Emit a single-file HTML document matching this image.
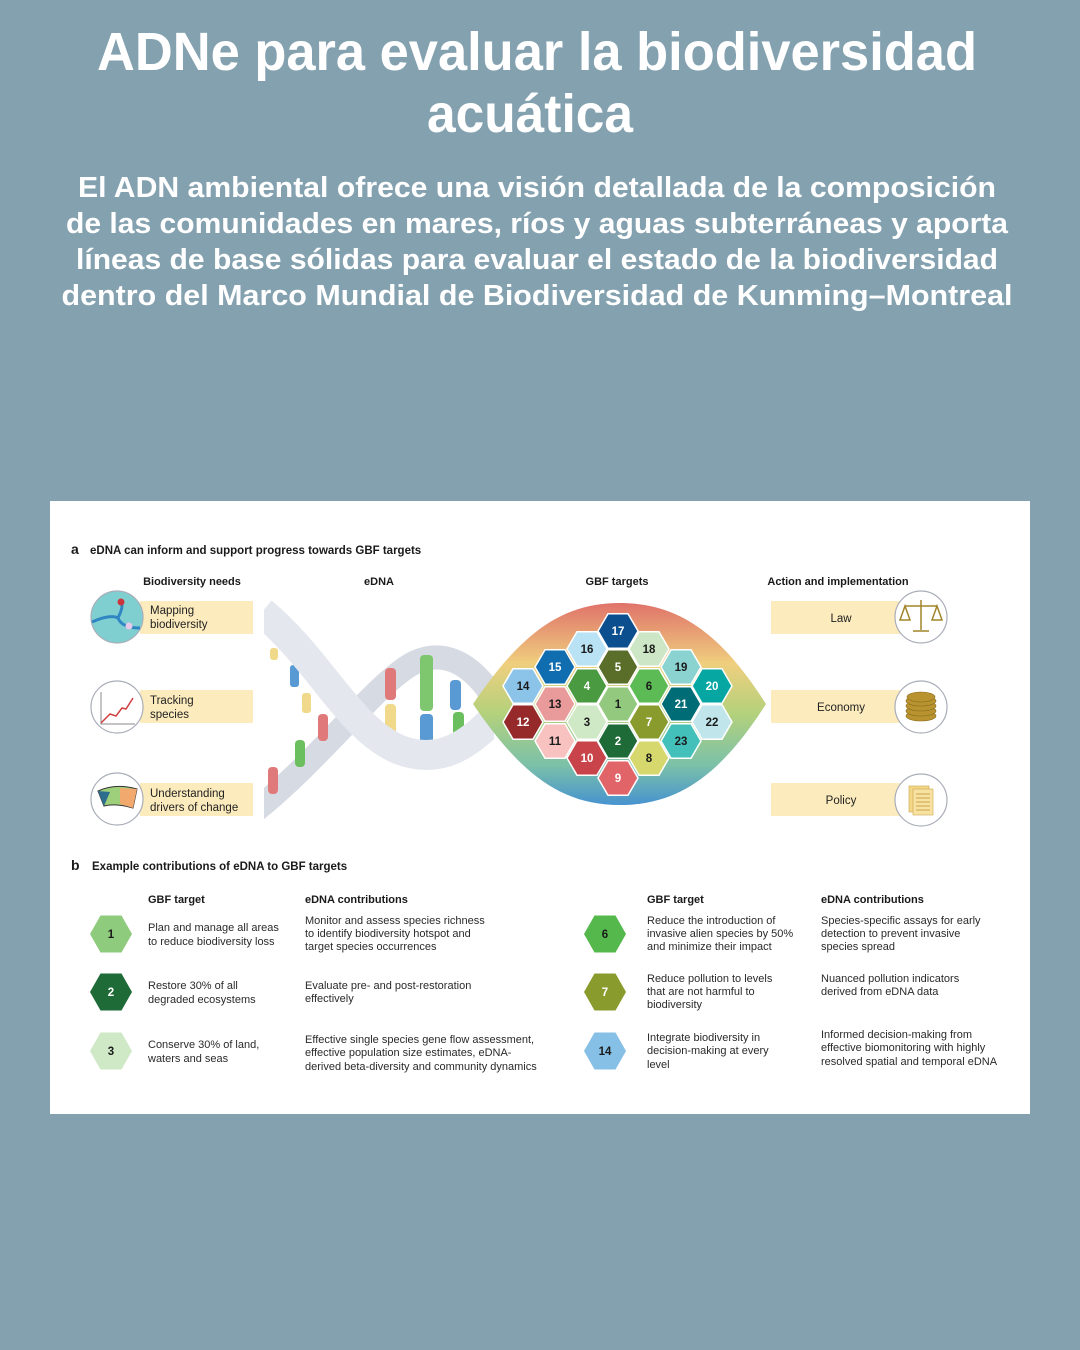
<!DOCTYPE html>
<html><head><meta charset="utf-8"><style>
html,body{margin:0;padding:0;background:#84a1b0;}
svg{display:block}
text{font-family:"Liberation Sans",sans-serif}
</style></head><body>
<svg width="1080" height="1350" viewBox="0 0 1080 1350" xmlns="http://www.w3.org/2000/svg">
<defs>
<polygon id="h" points="-20,0 -10,-17.3 10,-17.3 20,0 10,17.3 -10,17.3" stroke="#fff" stroke-width="1.5"/>
<polygon id="hb" points="-21,0 -10.5,-18.5 10.5,-18.5 21,0 10.5,18.5 -10.5,18.5"/>
<linearGradient id="lg" x1="0" y1="0" x2="0" y2="1">
<stop offset="0" stop-color="#e0736a"/><stop offset="0.3" stop-color="#efcf7e"/><stop offset="0.55" stop-color="#b3d17c"/><stop offset="0.8" stop-color="#7cc1a8"/><stop offset="1" stop-color="#4793cf"/></linearGradient>
<clipPath id="dc"><rect x="264" y="596" width="230" height="225"/></clipPath>
</defs>
<rect width="1080" height="1350" fill="#84a1b0"/>
<g fill="#fff" text-anchor="middle" font-weight="bold">
<text x="537" y="70" font-size="54" textLength="880" lengthAdjust="spacingAndGlyphs">ADNe para evaluar la biodiversidad</text>
<text x="530" y="132" font-size="54" textLength="206" lengthAdjust="spacingAndGlyphs">acuática</text>
<text x="537" y="197" font-size="29" textLength="918" lengthAdjust="spacingAndGlyphs">El ADN ambiental ofrece una visión detallada de la composición</text>
<text x="537" y="233" font-size="29" textLength="942" lengthAdjust="spacingAndGlyphs">de las comunidades en mares, ríos y aguas subterráneas y aporta</text>
<text x="537" y="269" font-size="29" textLength="922" lengthAdjust="spacingAndGlyphs">líneas de base sólidas para evaluar el estado de la biodiversidad</text>
<text x="537" y="305" font-size="29" textLength="951" lengthAdjust="spacingAndGlyphs">dentro del Marco Mundial de Biodiversidad de Kunming–Montreal</text>
</g>
<rect x="50" y="501" width="980" height="613" fill="#fff"/>
<g fill="#1a1a1a" font-weight="bold">
<text x="71" y="554" font-size="14">a</text>
<text x="90" y="554" font-size="11.5">eDNA can inform and support progress towards GBF targets</text>
<text x="192" y="585" font-size="11" text-anchor="middle">Biodiversity needs</text>
<text x="379" y="585" font-size="11" text-anchor="middle">eDNA</text>
<text x="617" y="585" font-size="11" text-anchor="middle">GBF targets</text>
<text x="838" y="585" font-size="11" text-anchor="middle">Action and implementation</text>
<text x="71" y="870" font-size="14">b</text>
<text x="92" y="870" font-size="11.5">Example contributions of eDNA to GBF targets</text>
<text x="148" y="903" font-size="11">GBF target</text>
<text x="305" y="903" font-size="11">eDNA contributions</text>
<text x="647" y="903" font-size="11">GBF target</text>
<text x="821" y="903" font-size="11">eDNA contributions</text>
</g>
<g fill="#fcebbd"><rect x="140" y="601" width="113" height="33"/><rect x="140" y="690" width="113" height="33"/><rect x="140" y="783" width="113" height="33"/>
<rect x="771" y="601" width="135" height="33"/><rect x="771" y="690" width="135" height="33"/><rect x="771" y="783" width="135" height="33"/></g>
<g font-size="11.5" fill="#222">
<text x="150" y="614">Mapping</text><text x="150" y="628">biodiversity</text>
<text x="150" y="704">Tracking</text><text x="150" y="718">species</text>
<text x="150" y="797">Understanding</text><text x="150" y="811">drivers of change</text>
<g text-anchor="middle"><text x="841" y="622">Law</text><text x="841" y="711">Economy</text><text x="841" y="804">Policy</text></g>
</g>
<g stroke="#a9adb8" stroke-width="1.2">
<circle cx="117" cy="617" r="26" fill="#7fcfd0"/>
<circle cx="117" cy="707" r="26" fill="#fff"/>
<circle cx="117" cy="799" r="26" fill="#fff"/>
<circle cx="921" cy="617" r="26" fill="#fff"/>
<circle cx="921" cy="707" r="26" fill="#fff"/>
<circle cx="921" cy="800" r="26" fill="#fff"/>
</g>
<path d="M92,622 Q110,614 118,618 Q124,606 121,602 M118,618 Q122,628 140,628" stroke="#2f86c2" stroke-width="3" fill="none"/>
<circle cx="121" cy="602" r="3.5" fill="#c9363b"/><circle cx="129" cy="626" r="3.5" fill="#e8c9e8"/>
<path d="M101,692 V724 H135" stroke="#888" fill="none"/>
<path d="M101,723 L110,714 L116,716 L122,708 L126,709 L133,698" stroke="#d04040" stroke-width="1.5" fill="none"/>
<path d="M98,791 Q116,783 137,789 L133,808 Q116,803 104,806 Z" fill="#9ecf7a" stroke="#333" stroke-width="1"/>
<path d="M98,791 L104,806 L110,792Z" fill="#2d6e8e"/>
<path d="M120,788 L137,789 L133,808 L120,804Z" fill="#f2a96e"/>
<g stroke="#a0852a" stroke-width="1.5" fill="none"><path d="M921,600 V630 M913,631 H929 M905,606 H937 M905,606 L900,620 H910Z M937,606 L932,620 H942Z"/></g>
<g fill="#b8932f" stroke="#8a6c1c" stroke-width="0.6"><ellipse cx="921" cy="716" rx="15" ry="5"/><ellipse cx="921" cy="711" rx="15" ry="5"/><ellipse cx="921" cy="706" rx="15" ry="5"/><ellipse cx="921" cy="701" rx="15" ry="5"/><ellipse cx="921" cy="697" rx="14" ry="5"/></g>
<rect x="909" y="786" width="20" height="26" fill="#f4d88a" stroke="#c8a44a" stroke-width="0.6"/><rect x="913" y="789" width="20" height="26" fill="#f7e2a2" stroke="#c8a44a" stroke-width="0.6"/>
<g stroke="#c8a44a"><path d="M916,794h14M916,798h14M916,802h14M916,806h14M916,810h14"/></g>
<!-- DNA -->
<g clip-path="url(#dc)" fill="none">
<path d="M250,815 C320,760 370,690 410,665 C440,648 470,660 495,700" stroke="#d6dae3" stroke-width="24"/>
<g>
<rect x="268" y="767" width="10" height="27" rx="4" fill="#e07a7a"/>
<rect x="295" y="740" width="10" height="27" rx="4" fill="#6cbf5f"/>
<rect x="318" y="714" width="10" height="27" rx="4" fill="#e07a7a"/>
<rect x="385" y="668" width="11" height="32" rx="4" fill="#e07a7a"/>
<rect x="385" y="704" width="11" height="36" rx="4" fill="#f1d98c"/>
<rect x="420" y="655" width="13" height="56" rx="4" fill="#7fc76f"/>
<rect x="420" y="714" width="13" height="40" rx="4" fill="#5a9ad4"/>
<rect x="450" y="680" width="11" height="30" rx="4" fill="#5a9ad4"/>
<rect x="453" y="712" width="11" height="28" rx="4" fill="#6cbf5f"/>
<rect x="290" y="665" width="9" height="22" rx="3" fill="#5a9ad4"/>
<rect x="302" y="693" width="9" height="20" rx="3" fill="#f1d98c"/>
<rect x="270" y="648" width="8" height="12" rx="3" fill="#f1d98c"/>
</g>
<path d="M262,612 C320,660 350,730 400,750 C440,765 470,745 500,712" stroke="#e4e7ee" stroke-width="30"/>
</g>
<path d="M473,704 C520,635 560,603 620,603 C680,603 722,635 766,704 C722,773 680,805 620,805 C560,805 520,773 473,704Z" fill="url(#lg)"/>
<g>
<use href="#h" x="618" y="631" fill="#0b4f8f"/>
<use href="#h" x="587" y="649" fill="#b9e2f5"/><use href="#h" x="649" y="649" fill="#cde6c5"/>
<use href="#h" x="555" y="667" fill="#0f6db0"/><use href="#h" x="618" y="667" fill="#5a6e2a"/><use href="#h" x="681" y="667" fill="#8bd3d0"/>
<use href="#h" x="523" y="686" fill="#8cc3e8"/><use href="#h" x="587" y="686" fill="#4a9a42"/><use href="#h" x="649" y="686" fill="#5dbb55"/><use href="#h" x="712" y="686" fill="#06a6a3"/>
<use href="#h" x="555" y="704" fill="#e99a9a"/><use href="#h" x="618" y="704" fill="#93c97f"/><use href="#h" x="681" y="704" fill="#006c76"/>
<use href="#h" x="523" y="722" fill="#962a2a"/><use href="#h" x="587" y="722" fill="#cfe8c5"/><use href="#h" x="649" y="722" fill="#8a9b2e"/><use href="#h" x="712" y="722" fill="#c0e6ec"/>
<use href="#h" x="555" y="741" fill="#f7c2c0"/><use href="#h" x="618" y="741" fill="#1e6b37"/><use href="#h" x="681" y="741" fill="#44c0ba"/>
<use href="#h" x="587" y="758" fill="#c9444a"/><use href="#h" x="649" y="758" fill="#d6d86d"/>
<use href="#h" x="618" y="778" fill="#e06468"/>
</g>
<g font-size="11.5" font-weight="bold" text-anchor="middle" fill="#1a1a1a">
<text x="618" y="635" fill="#fff">17</text>
<text x="587" y="653">16</text><text x="649" y="653">18</text>
<text x="555" y="671" fill="#fff">15</text><text x="618" y="671" fill="#fff">5</text><text x="681" y="671">19</text>
<text x="523" y="690">14</text><text x="587" y="690" fill="#fff">4</text><text x="649" y="690">6</text><text x="712" y="690" fill="#fff">20</text>
<text x="555" y="708">13</text><text x="618" y="708">1</text><text x="681" y="708" fill="#fff">21</text>
<text x="523" y="726" fill="#fff">12</text><text x="587" y="726">3</text><text x="649" y="726" fill="#fff">7</text><text x="712" y="726">22</text>
<text x="555" y="745">11</text><text x="618" y="745" fill="#fff">2</text><text x="681" y="745">23</text>
<text x="587" y="762" fill="#fff">10</text><text x="649" y="762">8</text>
<text x="618" y="782" fill="#fff">9</text>
</g>
<use href="#hb" x="111" y="934" fill="#8fcb7c"/><use href="#hb" x="111" y="992" fill="#1e6b37"/><use href="#hb" x="111" y="1051" fill="#cfe8c5"/>
<use href="#hb" x="605" y="934" fill="#55b84c"/><use href="#hb" x="605" y="992" fill="#8a9b2e"/><use href="#hb" x="605" y="1051" fill="#86c0e6"/>
<g font-size="11.5" font-weight="bold" text-anchor="middle" fill="#1a1a1a">
<text x="111" y="938">1</text><text x="111" y="996" fill="#fff">2</text><text x="111" y="1055">3</text>
<text x="605" y="938">6</text><text x="605" y="996" fill="#fff">7</text><text x="605" y="1055">14</text>
</g>
<g font-size="11" fill="#2a2a2a">
<text x="148" y="931">Plan and manage all areas</text><text x="148" y="945">to reduce biodiversity loss</text>
<text x="305" y="924">Monitor and assess species richness</text><text x="305" y="937">to identify biodiversity hotspot and</text><text x="305" y="950">target species occurrences</text>
<text x="148" y="989">Restore 30% of all</text><text x="148" y="1003">degraded ecosystems</text>
<text x="305" y="989">Evaluate pre- and post-restoration</text><text x="305" y="1002">effectively</text>
<text x="148" y="1048">Conserve 30% of land,</text><text x="148" y="1062">waters and seas</text>
<text x="305" y="1043">Effective single species gene flow assessment,</text><text x="305" y="1056">effective population size estimates, eDNA-</text><text x="305" y="1070">derived beta-diversity and community dynamics</text>
<text x="647" y="924">Reduce the introduction of</text><text x="647" y="937">invasive alien species by 50%</text><text x="647" y="950">and minimize their impact</text>
<text x="821" y="924">Species-specific assays for early</text><text x="821" y="937">detection to prevent invasive</text><text x="821" y="950">species spread</text>
<text x="647" y="982">Reduce pollution to levels</text><text x="647" y="995">that are not harmful to</text><text x="647" y="1008">biodiversity</text>
<text x="821" y="982">Nuanced pollution indicators</text><text x="821" y="995">derived from eDNA data</text>
<text x="647" y="1041">Integrate biodiversity in</text><text x="647" y="1054">decision-making at every</text><text x="647" y="1068">level</text>
<text x="821" y="1038">Informed decision-making from</text><text x="821" y="1051">effective biomonitoring with highly</text><text x="821" y="1065">resolved spatial and temporal eDNA</text>
</g>
</svg>
</body></html>
